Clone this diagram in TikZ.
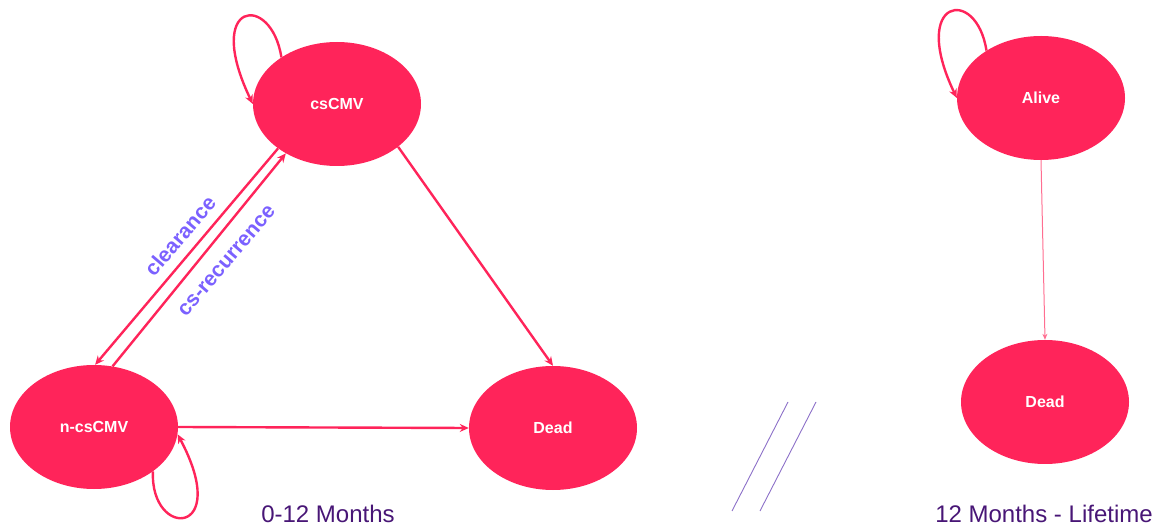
\documentclass[tikz,border=0pt]{standalone}
\usepackage{fontspec}
\setmainfont{Liberation Sans}
\usetikzlibrary{shapes.geometric,arrows.meta}
\definecolor{statepink}{RGB}{255,36,90}
\definecolor{lightpink}{RGB}{255,110,145}
\definecolor{labelviolet}{RGB}{123,97,255}
\definecolor{captionpurple}{RGB}{72,22,118}
\definecolor{slashpurple}{RGB}{140,112,200}
\tikzset{
  state/.style={ellipse, fill=statepink, draw=none, minimum width=168pt, minimum height=124pt, inner sep=0pt, text=white, font=\bfseries\fontsize{16}{18}\selectfont},
  trans/.style={draw=statepink, line width=2.4pt, -{Stealth[length=9pt,width=8pt]}},
  thintrans/.style={draw=lightpink, line width=1pt, -{Stealth[length=6pt,width=5pt]}},
  edgelabel/.style={text=labelviolet, font=\bfseries\fontsize{21}{23}\selectfont, rotate=49.5, inner sep=0pt},
  caption/.style={text=captionpurple, font=\fontsize{24}{26}\selectfont, anchor=base, inner sep=0pt},
  slash/.style={draw=slashpurple, line width=0.9pt}
}
\begin{document}
\begin{tikzpicture}[x=1pt,y=-1pt]
\useasboundingbox (0,0) rectangle (1157,526);
\node[state] (cs) at (337,104) {csCMV};
\node[state] (ncs) at (94,427) {n-csCMV};
\node[state] (dead) at (553,428) {Dead};
\node[state] (alive) at (1041,98) {Alive};
\node[state] (dead2) at (1045,402) {Dead};
% self loops
\draw[trans] (cs.140) .. controls +(-10,-65) and +(-50,-104) .. (cs.west);
\draw[trans] (ncs.-37) .. controls +(-3,68) and +(55,103) .. (ncs.-5);
\draw[trans] (alive.139) .. controls +(-10,-65) and +(-48,-100) .. (alive.west);
% transitions
\draw[trans] (cs.217.5) -- (ncs.89);
\draw[trans] (ncs.73.5) -- (cs.224.4);
\draw[trans] (cs.-35.8) -- (dead.north);
\draw[trans] (ncs.east) -- (dead.west);
\draw[thintrans] (alive.south) -- (dead2.north);
% labels
\node[edgelabel] (lclear) at (180,236) {clearance};
\node[edgelabel] (lrec) at (227,261) {cs-recurrence};
% break marks
\coordinate (s1a) at (788,402);
\coordinate (s1b) at (732,511);
\coordinate (s2a) at (816,402);
\coordinate (s2b) at (760,511);
\draw[slash] (s1a) -- (s1b);
\draw[slash] (s2a) -- (s2b);
% captions
\node[caption] (cap1) at (328,522) {0-12 Months};
\node[caption] (cap2) at (1044,522) {12 Months - Lifetime};
\end{tikzpicture}
\end{document}
